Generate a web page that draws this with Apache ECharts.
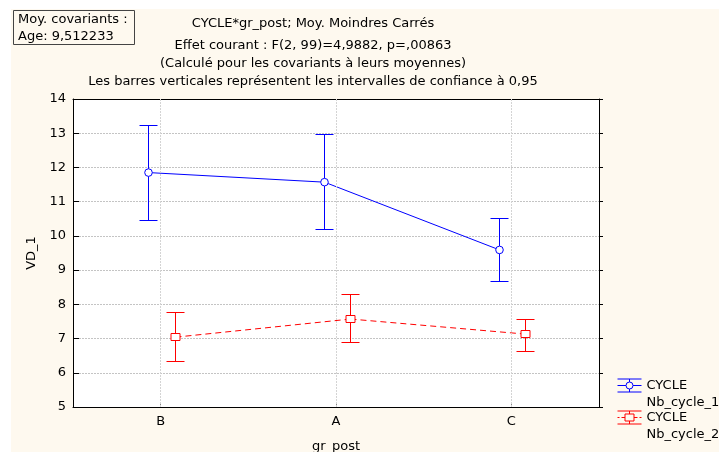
<!DOCTYPE html>
<html>
<head>
<meta charset="utf-8">
<script src="https://cdn.jsdelivr.net/npm/echarts@6/dist/echarts.min.js"></script>
<style>html,body{margin:0;padding:0;background:#fff}#c{width:719px;height:452px}</style>
</head>
<body>
<div id="c"></div>
<script>
var categories = ['B', 'A', 'C'];
var yTicks = [5, 6, 7, 8, 9, 10, 11, 12, 13, 14];
var cycle1Mean = [11.85, 11.57, 9.59];
var cycle1Low = [10.46, 10.19, 8.68];
var cycle1High = [13.25, 12.97, 10.51];
var cycle2Mean = [7.04, 7.57, 7.13];
var cycle2Low = [6.34, 6.89, 6.64];
var cycle2High = [7.79, 8.29, 7.58];
var seriesNames = ['CYCLE\nNb_cycle_1', 'CYCLE\nNb_cycle_2'];
var titleLines = [
  'CYCLE*gr_post; Moy. Moindres Carrés',
  'Effet courant : F(2, 99)=4,9882, p=,00863',
  '(Calculé pour les covariants à leurs moyennes)',
  'Les barres verticales représentent les intervalles de confiance à 0,95'
];
var boxText = 'Moy. covariants :\nAge: 9,512233';

var FONT = '"DejaVu Sans", Verdana, sans-serif';
var FS = 13;
var BLUE = '#0000ff', RED = '#ff0000';

function makeRender(means, lows, highs, off, shape, dashed, color) {
  return function (params, api) {
    var i = params.dataIndex;
    var p = api.coord([api.value(0), api.value(1)]);
    var lo = api.coord([api.value(0), api.value(2)]);
    var hi = api.coord([api.value(0), api.value(3)]);
    var x = Math.round(p[0] + off) + 0.5;
    var ch = [];
    if (i > 0) {
      var q = api.coord([i - 1, means[i - 1]]);
      var qx = Math.round(q[0] + off) + 0.5;
      ch.push({type: 'line', shape: {x1: qx, y1: q[1], x2: x, y2: p[1]},
        style: {stroke: color, lineWidth: 1, lineDash: dashed ? [6, 4] : null}, z2: 1});
    }
    var yh = Math.round(hi[1]) + 0.5, yl = Math.round(lo[1]) + 0.5;
    ch.push({type: 'line', shape: {x1: x, y1: yh, x2: x, y2: yl}, style: {stroke: color, lineWidth: 1}, z2: 2});
    ch.push({type: 'line', shape: {x1: x - 9, y1: yh, x2: x + 9, y2: yh}, style: {stroke: color, lineWidth: 1}, z2: 2});
    ch.push({type: 'line', shape: {x1: x - 9, y1: yl, x2: x + 9, y2: yl}, style: {stroke: color, lineWidth: 1}, z2: 2});
    if (shape === 'circle') {
      ch.push({type: 'circle', shape: {cx: x, cy: p[1], r: 3.8}, style: {fill: '#fff', stroke: color, lineWidth: 1}, z2: 3});
    } else {
      ch.push({type: 'rect', shape: {x: x - 4.5, y: Math.round(p[1]) - 3.5, width: 9, height: 7}, style: {fill: '#fff', stroke: color, lineWidth: 1}, z2: 3});
    }
    return {type: 'group', children: ch};
  };
}

function buildData(means, lows, highs) {
  return means.map(function (m, i) { return [i, m, lows[i], highs[i]]; });
}

var iconCircle = 'path://M0 0H24M0 13H24M12 0V3M12 10V13M0 6.5H8.5M15.5 6.5H24M15.5 6.5A3.5 3.5 0 1 1 8.5 6.5A3.5 3.5 0 1 1 15.5 6.5M24 30L24 30';
var iconRect = 'path://M0 0H24M0 13H24M12 0V3M12 10V13M0 6.5H2M4 6.5H7.5M16.5 6.5H20M22 6.5H24M7.5 3H16.5V10H7.5Z M24 30L24 30';

var titles = titleLines.map(function (t, i) {
  return {text: t, left: 313, textAlign: 'center', top: [17, 39, 57, 75][i],
    textStyle: {fontFamily: FONT, fontSize: FS, fontWeight: 'normal', color: '#000'}, padding: 0};
});
titles.push({text: boxText, left: 13, top: 10, padding: [1, 7, 0, 5], borderColor: '#444', borderWidth: 1,
  textStyle: {fontFamily: FONT, fontSize: FS, fontWeight: 'normal', color: '#000', lineHeight: 17}});

var chart = echarts.init(document.getElementById('c'), null, {renderer: 'canvas'});
chart.setOption({
  backgroundColor: '#fff',
  animation: false,
  graphic: [{type: 'rect', left: 11, top: 9, shape: {width: 708, height: 443}, style: {fill: '#FEF9EF'}, z: -10, silent: true}],
  title: titles,
  legend: {
    left: 612, top: 372, orient: 'vertical', itemWidth: 24, itemHeight: 32, itemGap: -2,
    textStyle: {fontFamily: FONT, fontSize: FS, color: '#000', lineHeight: 17},
    data: [
      {name: seriesNames[0], icon: iconCircle, itemStyle: {color: 'transparent', borderColor: BLUE, borderWidth: 1}},
      {name: seriesNames[1], icon: iconRect, itemStyle: {color: 'transparent', borderColor: RED, borderWidth: 1}}
    ]
  },
  grid: {left: 73, top: 99, right: 120, bottom: 45, show: true, backgroundColor: '#fff', borderWidth: 0,
    containLabel: false, outerBoundsMode: 'none'},
  xAxis: [{
    type: 'category', data: categories, position: 'bottom',
    name: 'gr_post', nameLocation: 'middle', nameGap: 33,
    nameTextStyle: {fontFamily: FONT, fontSize: FS, color: '#000'},
    axisLine: {lineStyle: {color: '#000', width: 1}},
    axisTick: {show: true, alignWithLabel: true, inside: true, length: 4, lineStyle: {color: '#888'}},
    axisLabel: {fontFamily: FONT, fontSize: FS, color: '#000', margin: 8},
    splitLine: {show: false}
  }, {
    type: 'category', data: categories, position: 'top',
    axisLine: {show: true, lineStyle: {color: '#000'}}, axisTick: {show: false}, axisLabel: {show: false}
  }],
  yAxis: [{
    type: 'value', min: yTicks[0], max: yTicks[yTicks.length - 1], interval: 1,
    name: 'VD_1', nameLocation: 'middle', nameGap: 29,
    nameTextStyle: {fontFamily: FONT, fontSize: FS, color: '#000'},
    axisLine: {show: true, lineStyle: {color: '#000'}},
    axisTick: {show: true, inside: true, length: 6, lineStyle: {color: '#000'}},
    axisLabel: {fontFamily: FONT, fontSize: FS, color: '#000', margin: 7},
    splitLine: {show: true, lineStyle: {color: '#c4c4c4', type: [2, 1], width: 1}}
  }, {
    type: 'value', min: yTicks[0], max: yTicks[yTicks.length - 1], interval: 1, position: 'right',
    axisLine: {show: true, lineStyle: {color: '#000'}},
    axisTick: {show: true, inside: false, length: 4, lineStyle: {color: '#000'}},
    axisLabel: {show: false}, splitLine: {show: false}
  }],
  series: [{
    name: seriesNames[0], type: 'custom', xAxisIndex: 0, yAxisIndex: 0,
    itemStyle: {color: BLUE},
    renderItem: makeRender(cycle1Mean, cycle1Low, cycle1High, -12.5, 'circle', false, BLUE),
    data: buildData(cycle1Mean, cycle1Low, cycle1High),
    markLine: {
      silent: true, symbol: 'none', label: {show: false},
      lineStyle: {color: '#d4d4d4', type: [2, 1], width: 1},
      data: categories.map(function (c) { return {xAxis: c}; })
    },
    z: 3
  }, {
    name: seriesNames[1], type: 'custom', xAxisIndex: 0, yAxisIndex: 0,
    itemStyle: {color: RED},
    renderItem: makeRender(cycle2Mean, cycle2Low, cycle2High, 14, 'rect', true, RED),
    data: buildData(cycle2Mean, cycle2Low, cycle2High),
    z: 3
  }]
});
</script>
</body>
</html>
